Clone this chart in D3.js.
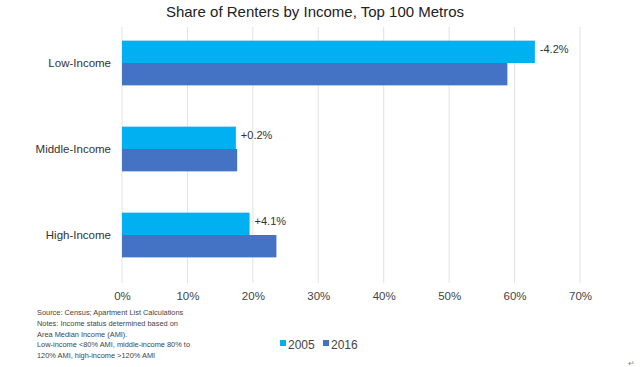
<!DOCTYPE html>
<html><head><meta charset="utf-8">
<script src="https://cdn.jsdelivr.net/npm/d3@7"></script>
<style>body{margin:0;background:#fff}svg{display:block;font-family:"Liberation Sans",Arial,sans-serif}</style>
</head><body><svg id="c" width="640" height="367"></svg>
<script>
const categories = ["Low-Income", "Middle-Income", "High-Income"];
const seriesNames = ["2005", "2016"];
const values2005 = [63.1, 17.4, 19.5];
const values2016 = [58.9, 17.6, 23.6];
const changeLabels = ["-4.2%", "+0.2%", "+4.1%"];
const xTicks = [0, 10, 20, 30, 40, 50, 60, 70];
const colors = ["#00B0F0", "#4472C4"];
const notes = [
  "Source: Census; Apartment List Calculations",
  "Notes: Income status determined based on",
  "Area Median Income (AMI).",
  "Low-income <80% AMI, middle-income 80% to",
  "120% AMI, high-income >120% AMI"
];

const svg = d3.select("#c");
const x = d3.scaleLinear().domain([0, 70]).range([122, 580]);
const y = d3.scaleBand().domain(categories).range([20, 278]).paddingInner(0.48).paddingOuter(0.24);
const sub = d3.scaleBand().domain(seriesNames).range([0, y.bandwidth()]);

svg.append("text").attr("x", 315).attr("y", 17).attr("text-anchor", "middle")
  .attr("font-size", 15).attr("fill", "#222").text("Share of Renters by Income, Top 100 Metros");

// gridlines
svg.append("g").selectAll("line").data(xTicks).join("line")
  .attr("x1", d => x(d)).attr("x2", d => x(d)).attr("y1", 27).attr("y2", 283)
  .attr("stroke", "#e2e2e2").attr("stroke-width", 1);

// axis labels
const ax = svg.append("g").attr("transform", "translate(0,285)")
  .call(d3.axisBottom(x).tickValues(xTicks).tickFormat(d => d + "%").tickSize(0).tickPadding(7));
ax.select(".domain").remove();
ax.selectAll("text").attr("font-size", 11.5).attr("fill", "#444").attr("font-family", "Liberation Sans, Arial, sans-serif");

// category labels
svg.append("g").selectAll("text").data(categories).join("text")
  .attr("x", 111).attr("y", d => y(d) + y.bandwidth() / 2 + 4).attr("text-anchor", "end")
  .attr("font-size", 11.5).attr("fill", "#333").text(d => d);

const data = categories.map((c, i) => ({c, v: [values2005[i], values2016[i]], lab: changeLabels[i]}));

const g = svg.append("g");
data.forEach(d => {
  seriesNames.forEach((s, j) => {
    g.append("rect").attr("x", x(0)).attr("y", y(d.c) + sub(s))
      .attr("width", x(d.v[j]) - x(0)).attr("height", sub.bandwidth())
      .attr("fill", colors[j]);
  });
  g.append("text").attr("x", x(d.v[0]) + 5).attr("y", y(d.c) + sub("2005") + sub.bandwidth() / 2 + 1)
    .attr("font-size", 11).attr("fill", "#333").text(d.lab);
});

// notes
svg.append("g").selectAll("text").data(notes).join("text")
  .attr("x", 37).attr("y", (d, i) => 315 + i * 10.8)
  .attr("font-size", 7.4).attr("fill", "#444").text(d => d);

// legend
const lg = svg.append("g").attr("transform", "translate(280,341)");
const lx = [0, 43];
seriesNames.forEach((s, j) => {
  lg.append("rect").attr("x", lx[j]).attr("y", -1).attr("width", 6).attr("height", 6).attr("fill", colors[j]);
  lg.append("text").attr("x", lx[j] + 8).attr("y", 8).attr("font-size", 12).attr("fill", "#444").text(s);
});

svg.append("text").attr("x", 628).attr("y", 366).attr("font-size", 8).attr("fill", "#888").text("↵");
</script></body></html>
